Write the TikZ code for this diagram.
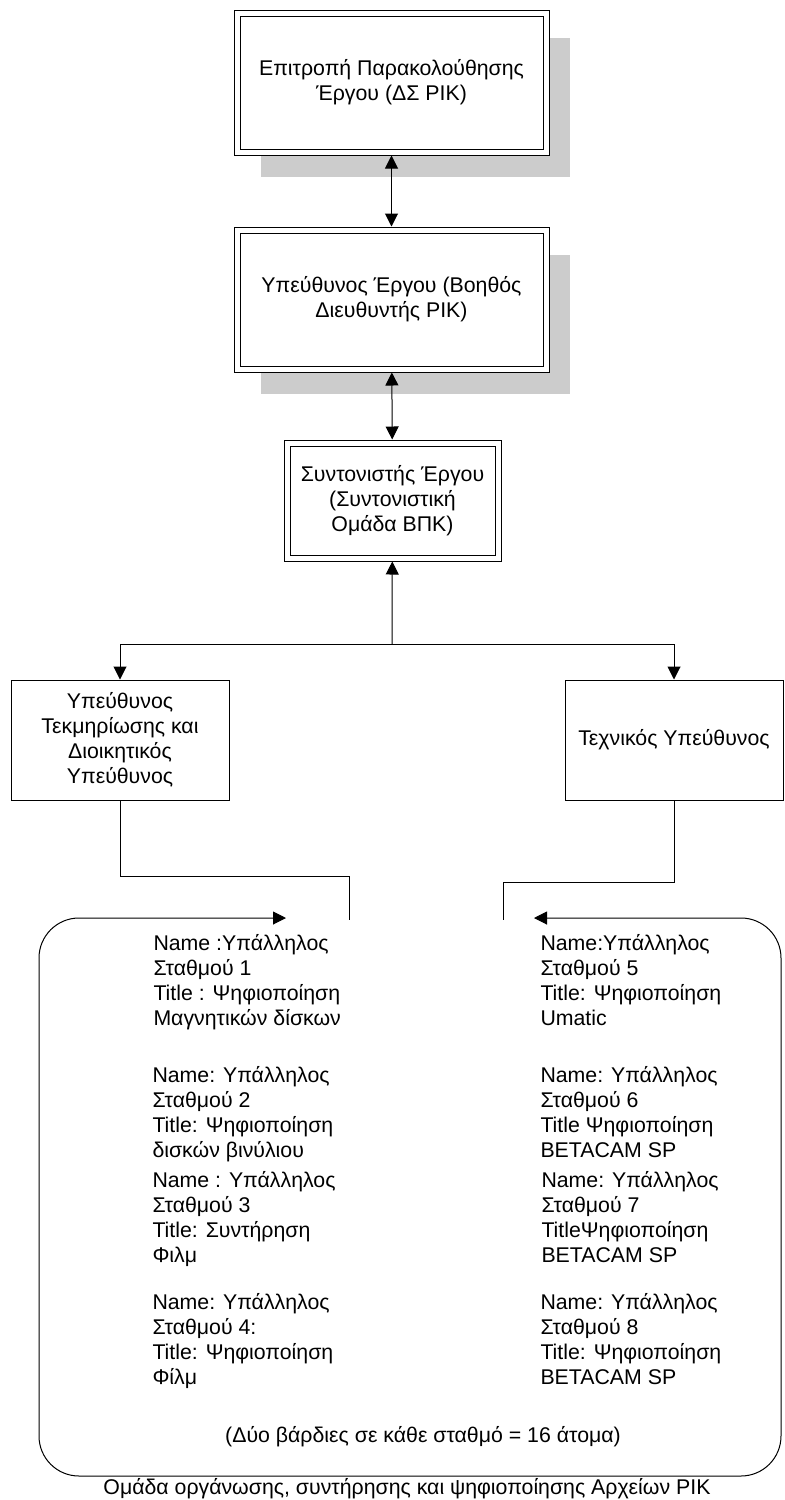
\documentclass[tikz,border=0pt]{standalone}
\usepackage{fontspec}
\setmainfont{Liberation Sans}
\usetikzlibrary{arrows.meta, shadows}

\begin{document}
\begin{tikzpicture}[x=0.5pt, y=-0.5pt, line width=0.5pt,
		every node/.style={font=\fontsize{10.65}{12.5}\selectfont},
		dblbox/.style={draw, double, double distance=2.5pt, fill=white, align=center, inner sep=0pt, outer sep=1.75pt},
		shadowed/.style={general shadow={fill=gray!40, shadow xshift=12pt, shadow yshift=-12.5pt}},
		plainbox/.style={draw, fill=white, align=center, inner sep=0pt, minimum width=109pt, minimum height=60pt},
		arr/.style={-{Triangle[length=6.5pt, width=6.5pt]}},
		dblarr/.style={{Triangle[length=6.5pt, width=6.5pt]}-{Triangle[length=6.5pt, width=6.5pt]}},
		staff/.style={anchor=base west, align=left, inner sep=0pt}]
					\useasboundingbox[fill=white] (0,0) rectangle (784,1500);
					
					% management chain
					\node[dblbox, shadowed, minimum width=154.5pt, minimum height=69.5pt] (monitor) at (391.5,82.5) {Επιτροπή Παρακολούθησης\\Έργου (ΔΣ ΡΙΚ)};
					\node[dblbox, shadowed, minimum width=154.5pt, minimum height=69.5pt] (manager) at (391.5,299.5) {Υπεύθυνος Έργου (Βοηθός\\Διευθυντής ΡΙΚ)};
					\node[dblbox, minimum width=105.5pt, minimum height=57.5pt] (coord) at (392.5,500.5) {Συντονιστής Έργου\\(Συντονιστική\\Ομάδα ΒΠΚ)};
					
					\draw[dblarr] (monitor) -- (manager);
					\draw[dblarr] (manager) -- (coord);
					
					% the two heads
					\node[plainbox] (docu) at (120,740) {Υπεύθυνος\\Τεκμηρίωσης και\\Διοικητικός\\Υπεύθυνος};
					\node[plainbox] (tech) at (674,740) {Τεχνικός Υπεύθυνος};
					
					\coordinate (split) at (392,644);
					\draw[arr] (split) -- (coord);
					\draw[arr] (split) -| (docu);
					\draw[arr] (split) -| (tech);
					
					% team
					\coordinate (docuend) at (349,920);
					\coordinate (techend) at (503,920);
					\draw (docu.south) -- ++(0,76) -| (docuend);
					\draw (tech.south) -- ++(0,82) -| (techend);
					
					\coordinate (teamleft) at (286,918);
					\coordinate (teamright) at (534,918);
					\draw[dblarr, rounded corners=20pt] (teamleft) -- (39,918) -- (39,1476) -- (781,1476) -- (781,918) -- (teamright);
					
					% base = last line of each group
					\node[staff] (st1) at (153,1025) {Name :Υπάλληλος\\Σταθμού 1\\Title : Ψηφιοποίηση\\Μαγνητικών δίσκων};
					\node[staff] (st2) at (152,1157) {Name: Υπάλληλος\\Σταθμού 2\\Title: Ψηφιοποίηση\\δισκών βινύλιου};
					\node[staff] (st3) at (152,1262) {Name : Υπάλληλος\\Σταθμού 3\\Title: Συντήρηση\\Φιλμ};
					\node[staff] (st4) at (152,1384) {Name: Υπάλληλος\\Σταθμού 4:\\Title: Ψηφιοποίηση\\Φίλμ};
					
					\node[staff] (st5) at (540,1025) {Name:Υπάλληλος\\Σταθμού 5\\Title: Ψηφιοποίηση\\Umatic};
					\node[staff] (st6) at (540,1157) {Name: Υπάλληλος\\Σταθμού 6\\Title Ψηφιοποίηση\\BETACAM SP};
					\node[staff] (st7) at (541,1262) {Name: Υπάλληλος\\Σταθμού 7\\TitleΨηφιοποίηση\\BETACAM SP};
					\node[staff] (st8) at (540,1384) {Name: Υπάλληλος\\Σταθμού 8\\Title: Ψηφιοποίηση\\BETACAM SP};
					
					\node[anchor=base] (shifts) at (423,1442) {(Δύο βάρδιες σε κάθε σταθμό = 16 άτομα)};
					\node[anchor=base] (teamname) at (407,1494) {Ομάδα οργάνωσης, συντήρησης και ψηφιοποίησης Αρχείων ΡΙΚ};
				\end{tikzpicture}
\end{document}
